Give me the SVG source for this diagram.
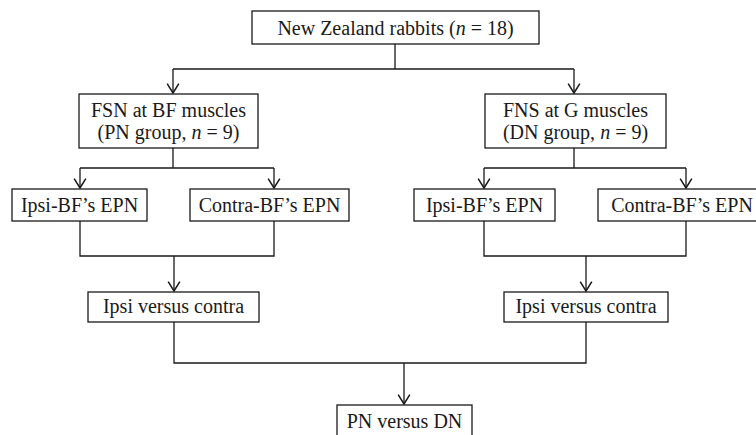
<svg xmlns="http://www.w3.org/2000/svg" width="756" height="435" viewBox="0 0 756 435">
<style>
.box{fill:#fff;stroke:#1a1a1a;stroke-width:1.3}
.t{font-family:"Liberation Serif","Times New Roman",serif;font-size:20px;fill:#1a1a1a;text-anchor:middle}
.c{fill:none;stroke:#1a1a1a;stroke-width:1.3}
.i{font-style:italic}
</style>
<defs>
<marker id="arr" markerUnits="userSpaceOnUse" markerWidth="14" markerHeight="14" viewBox="0 0 12 12" refX="10" refY="6" orient="auto">
<path d="M2,1 L10,6 L2,11" fill="none" stroke="#1a1a1a" stroke-width="1.3"/>
</marker>
</defs>
<rect width="756" height="435" fill="#fff"/>
<g id="connectors">
<path class="c" d="M395,44 V69 M173,69 H574"/>
<path class="c" d="M173,69 V93" marker-end="url(#arr)"/>
<path class="c" d="M574,69 V93" marker-end="url(#arr)"/>
<path class="c" d="M173,148 V168 M80,168 H274"/>
<path class="c" d="M80,168 V188" marker-end="url(#arr)"/>
<path class="c" d="M274,168 V188" marker-end="url(#arr)"/>
<path class="c" d="M574,148 V168 M484,168 H686"/>
<path class="c" d="M484,168 V188" marker-end="url(#arr)"/>
<path class="c" d="M686,168 V188" marker-end="url(#arr)"/>
<path class="c" d="M80,221 V256 H274 V221"/>
<path class="c" d="M174,256 V291" marker-end="url(#arr)"/>
<path class="c" d="M484,221 V256 H686 V221"/>
<path class="c" d="M586,256 V291" marker-end="url(#arr)"/>
<path class="c" d="M174,322 V363 H586 V322"/>
<path class="c" d="M404,363 V404" marker-end="url(#arr)"/>
</g>
<g id="root">
<rect class="box" x="252" y="11" width="287" height="33"/>
<text class="t" x="395.5" y="35">New Zealand rabbits (<tspan class="i">n</tspan> = 18)</text>
</g>
<g id="pn-group">
<rect class="box" x="79" y="94" width="179" height="54"/>
<text class="t" x="168.5" y="117">FSN at BF muscles</text>
<text class="t" x="168.5" y="139">(PN group, <tspan class="i">n</tspan> = 9)</text>
</g>
<g id="dn-group">
<rect class="box" x="485" y="94" width="181" height="54"/>
<text class="t" x="575.5" y="117">FNS at G muscles</text>
<text class="t" x="575.5" y="139">(DN group, <tspan class="i">n</tspan> = 9)</text>
</g>
<g id="pn-ipsi">
<rect class="box" x="12" y="189" width="135" height="32"/>
<text class="t" x="79.5" y="212">Ipsi-BF’s EPN</text>
</g>
<g id="pn-contra">
<rect class="box" x="190" y="189" width="159" height="32"/>
<text class="t" x="269.5" y="212">Contra-BF’s EPN</text>
</g>
<g id="dn-ipsi">
<rect class="box" x="414" y="189" width="141" height="32"/>
<text class="t" x="484.5" y="212">Ipsi-BF’s EPN</text>
</g>
<g id="dn-contra">
<rect class="box" x="598" y="189" width="160" height="32"/>
<text class="t" x="682" y="212">Contra-BF’s EPN</text>
</g>
<g id="pn-compare">
<rect class="box" x="88" y="292" width="171" height="30"/>
<text class="t" x="173.5" y="313">Ipsi versus contra</text>
</g>
<g id="dn-compare">
<rect class="box" x="504" y="292" width="164" height="30"/>
<text class="t" x="586" y="313">Ipsi versus contra</text>
</g>
<g id="final">
<rect class="box" x="337" y="405" width="135" height="40"/>
<text class="t" x="404.5" y="428">PN versus DN</text>
</g>
</svg>
